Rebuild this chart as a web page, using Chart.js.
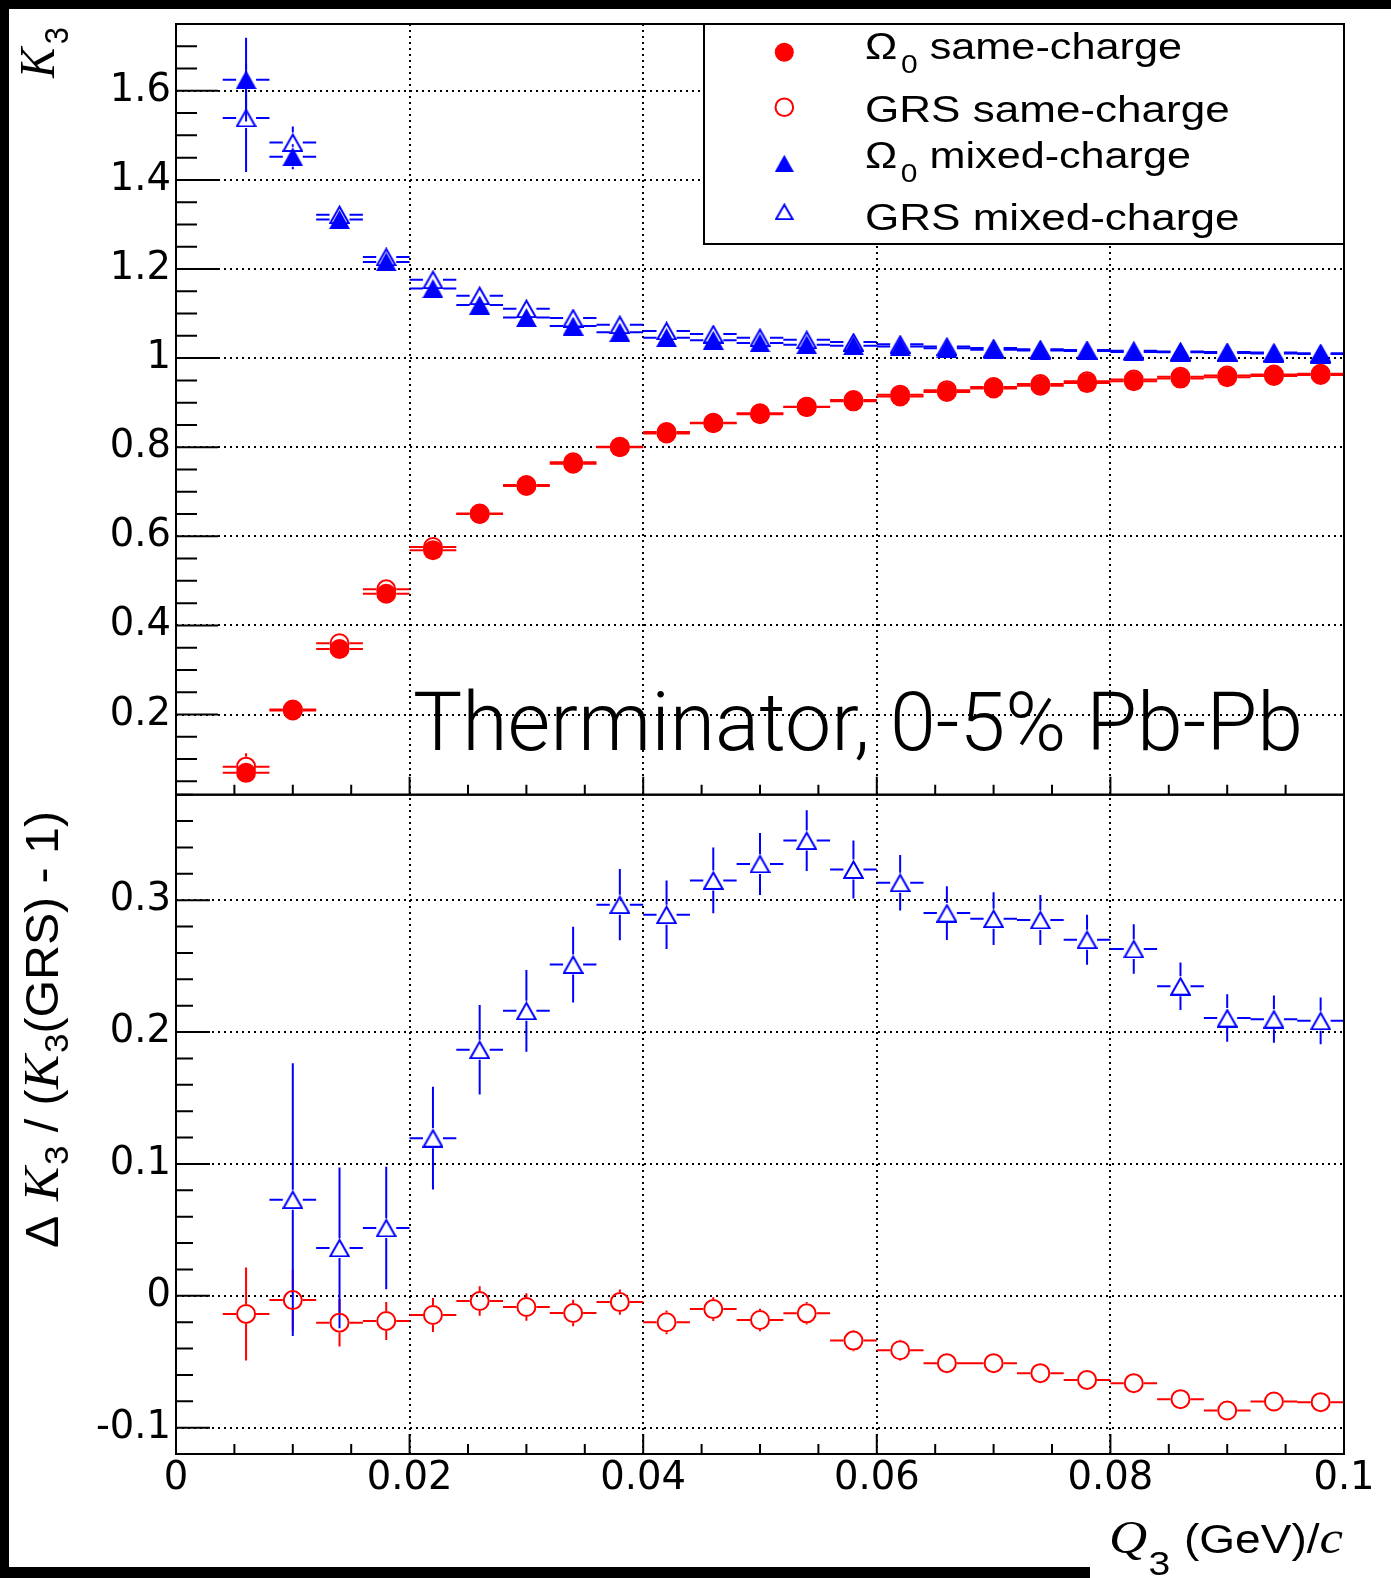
<!DOCTYPE html>
<html>
<head>
<meta charset="utf-8">
<script src="https://cdn.jsdelivr.net/npm/chart.js@4.4.1/dist/chart.umd.min.js"></script>
<style>
  html, body { margin: 0; padding: 0; background: #fff; }
  body { width: 1391px; height: 1578px; position: relative; overflow: hidden; }
  #bandTop { position: absolute; left: 0; top: 0; width: 1391px; height: 9px; background: #000; }
  #bandLeft { position: absolute; left: 0; top: 0; width: 9px; height: 1578px; background: #000; }
  #bandBottom { position: absolute; left: 0; top: 1567px; width: 1090px; height: 11px; background: #000; }
  #wrap { position: absolute; left: 9px; top: 9px; width: 1382px; height: 1569px; }
  canvas { display: block; }
</style>
</head>
<body>
<div id="bandTop"></div><div id="bandLeft"></div><div id="bandBottom"></div>
<div id="wrap"><canvas id="c" width="1382" height="1569"></canvas></div>
<script>
// ---------------- DATA ----------------
const qBins = [0.006, 0.010, 0.014, 0.018, 0.022, 0.026, 0.030, 0.034, 0.038, 0.042, 0.046, 0.050,
               0.054, 0.058, 0.062, 0.066, 0.070, 0.074, 0.078, 0.082, 0.086, 0.090, 0.094, 0.098];
const binHalfWidth = 0.002;

// upper panel: K3
const k3OmegaSame    = [0.069, 0.209, 0.347, 0.471, 0.569, 0.650, 0.713, 0.763, 0.800, 0.831, 0.854, 0.874,
                        0.890, 0.903, 0.914, 0.924, 0.932, 0.938, 0.944, 0.948, 0.954, 0.957, 0.960, 0.962];
const k3OmegaSameErr = [0.020, 0.008, 0.006, 0.005, 0.004, 0.004, 0.003, 0.003, 0.003, 0.003, 0.003, 0.003,
                        0.002, 0.002, 0.002, 0.002, 0.002, 0.002, 0.002, 0.002, 0.002, 0.002, 0.002, 0.002];
const k3GrsSame      = [0.083, 0.211, 0.360, 0.481, 0.576, 0.651, 0.715, 0.766, 0.801, 0.834, 0.855, 0.876,
                        0.891, 0.906, 0.918, 0.928, 0.935, 0.942, 0.948, 0.952, 0.958, 0.961, 0.963, 0.965];
const k3GrsSameErr   = [0.030, 0.010, 0.007, 0.006, 0.005, 0.004, 0.004, 0.003, 0.003, 0.003, 0.003, 0.003,
                        0.002, 0.002, 0.002, 0.002, 0.002, 0.002, 0.002, 0.002, 0.002, 0.002, 0.002, 0.002];
const k3OmegaMixed    = [1.625, 1.452, 1.311, 1.216, 1.156, 1.119, 1.091, 1.072, 1.058, 1.046, 1.040, 1.034,
                         1.030, 1.028, 1.026, 1.022, 1.019, 1.017, 1.016, 1.014, 1.013, 1.0115, 1.0105, 1.009];
const k3OmegaMixedErr = [0.094, 0.028, 0.012, 0.009, 0.007, 0.006, 0.005, 0.005, 0.004, 0.004, 0.004, 0.003,
                         0.003, 0.003, 0.003, 0.003, 0.003, 0.002, 0.002, 0.002, 0.002, 0.002, 0.002, 0.002];
const k3GrsMixed      = [1.539, 1.484, 1.322, 1.227, 1.176, 1.140, 1.111, 1.090, 1.075, 1.061, 1.054, 1.046,
                         1.041, 1.036, 1.031, 1.026, 1.0225, 1.020, 1.018, 1.0165, 1.015, 1.0137, 1.0127, 1.0112];
const k3GrsMixedErr   = [0.121, 0.036, 0.014, 0.010, 0.008, 0.006, 0.005, 0.005, 0.004, 0.004, 0.004, 0.003,
                         0.003, 0.003, 0.003, 0.003, 0.003, 0.002, 0.002, 0.002, 0.002, 0.002, 0.002, 0.002];

// lower panel: Delta K3 / (K3(GRS) - 1)
const ratioSame    = [-0.0138, -0.0033, -0.0204, -0.0191, -0.0146, -0.0040, -0.0085, -0.0131, -0.0048, -0.0201, -0.0101, -0.0184,
                      -0.0133, -0.0340, -0.0413, -0.0511, -0.0511, -0.0587, -0.0638, -0.0663, -0.0784, -0.0870, -0.0802, -0.0807];
const ratioSameErr = [0.0353, 0.0230, 0.0180, 0.0144, 0.0129, 0.0112, 0.0105, 0.0100, 0.0096, 0.0090, 0.0090, 0.0085,
                      0.0085, 0.0080, 0.0080, 0.0070, 0.0070, 0.0070, 0.0070, 0.0070, 0.0068, 0.0068, 0.0067, 0.0066];
const ratioMixed    = [null, 0.0729, 0.0363, 0.0514, 0.1195, 0.1866, 0.2161, 0.2512, 0.2966, 0.2890, 0.3150, 0.3275,
                       0.3452, 0.3233, 0.3132, 0.2902, 0.2860, 0.2850, 0.2700, 0.2630, 0.2348, 0.2106, 0.2098, 0.2085];
const ratioMixedErr = [0, 0.1034, 0.0610, 0.0464, 0.0390, 0.0340, 0.0310, 0.0287, 0.0270, 0.0260, 0.0250, 0.0235,
                       0.0230, 0.0220, 0.0210, 0.0204, 0.0200, 0.0190, 0.0190, 0.0187, 0.0180, 0.0180, 0.0180, 0.0177];

// axes / ticks / labels
const xTickValues = [0, 0.02, 0.04, 0.06, 0.08, 0.1];
const xTickLabels = ['0', '0.02', '0.04', '0.06', '0.08', '0.1'];
const yUTickValues = [0.2, 0.4, 0.6, 0.8, 1.0, 1.2, 1.4, 1.6];
const yUTickLabels = ['0.2', '0.4', '0.6', '0.8', '1', '1.2', '1.4', '1.6'];
const yLTickValues = [-0.1, 0, 0.1, 0.2, 0.3];
const yLTickLabels = ['-0.1', '0', '0.1', '0.2', '0.3'];
const seriesNames = ['Ω0 same-charge', 'GRS same-charge', 'Ω0 mixed-charge', 'GRS mixed-charge'];
const annotationText = 'Therminator, 0-5% Pb-Pb';

// ---------------- STYLE ----------------
const RED = '#ff0000', BLUE = '#0000ff';
const SANS = '"Liberation Sans", Arial, sans-serif';
const SERIF = '"Liberation Serif", "Times New Roman", serif';

function triCanvas(filled, color, W, H) {
  const c = document.createElement('canvas');
  c.width = W; c.height = H;
  const g = c.getContext('2d');
  g.beginPath();
  if (filled) {
    g.moveTo(W / 2, 0); g.lineTo(W, H); g.lineTo(0, H); g.closePath();
    g.fillStyle = color; g.fill();
  } else {
    g.moveTo(W / 2, 1.6); g.lineTo(W - 1.2, H - 1); g.lineTo(1.2, H - 1); g.closePath();
    g.lineWidth = 2; g.strokeStyle = color; g.lineJoin = 'miter'; g.stroke();
  }
  return c;
}
const triFilled = triCanvas(true, BLUE, 21, 19);
const triOpen = triCanvas(false, BLUE, 21, 19);
const triFilledLeg = triCanvas(true, BLUE, 19, 17);
const triOpenLeg = triCanvas(false, BLUE, 19, 17);

function pts(ys) { return qBins.map((x, i) => ({ x: x, y: ys[i] })); }

const datasets = [
  { label: seriesNames[0], data: pts(k3OmegaSame), yErr: k3OmegaSameErr, yAxisID: 'yU',
    pointStyle: 'circle', pointRadius: 10, pointBackgroundColor: RED, pointBorderColor: RED, pointBorderWidth: 0,
    borderColor: RED, markerHalf: 10 },
  { label: seriesNames[1], data: pts(k3GrsSame), yErr: k3GrsSameErr, yAxisID: 'yU',
    pointStyle: 'circle', pointRadius: 9, pointBackgroundColor: 'rgba(0,0,0,0)', pointBorderColor: RED, pointBorderWidth: 2,
    borderColor: RED, markerHalf: 10 },
  { label: seriesNames[2], data: pts(k3OmegaMixed), yErr: k3OmegaMixedErr, yAxisID: 'yU',
    pointStyle: triFilled, pointRadius: 10, borderColor: BLUE, pointBackgroundColor: BLUE, markerHalf: 10 },
  { label: seriesNames[3], data: pts(k3GrsMixed), yErr: k3GrsMixedErr, yAxisID: 'yU',
    pointStyle: triOpen, pointRadius: 10, borderColor: BLUE, pointBackgroundColor: BLUE, markerHalf: 10 },
  { label: 'GRS same-charge ratio', data: pts(ratioSame), yErr: ratioSameErr, yAxisID: 'yL',
    pointStyle: 'circle', pointRadius: 9, pointBackgroundColor: 'rgba(0,0,0,0)', pointBorderColor: RED, pointBorderWidth: 2,
    borderColor: RED, markerHalf: 10 },
  { label: 'GRS mixed-charge ratio', data: pts(ratioMixed), yErr: ratioMixedErr, yAxisID: 'yL',
    pointStyle: triOpen, pointRadius: 10, borderColor: BLUE, pointBackgroundColor: BLUE, markerHalf: 10 }
];
datasets.forEach(d => { d.showLine = false; d.pointHoverRadius = d.pointRadius; });

// ---------------- HELPERS ----------------
function drawRuns(ctx, runs, x, y, angle, targetLen) {
  let total = 0;
  const widths = runs.map(r => {
    ctx.font = r.font;
    const w = ctx.measureText(r.text).width + (r.gapBefore || 0);
    total += w; return w;
  });
  const s = targetLen ? targetLen / total : 1;
  ctx.save();
  ctx.translate(x, y); ctx.rotate(angle); ctx.scale(s, 1);
  ctx.textBaseline = 'alphabetic'; ctx.textAlign = 'left'; ctx.fillStyle = '#000';
  let cx = 0;
  runs.forEach((r, i) => {
    ctx.font = r.font;
    ctx.fillText(r.text, cx + (r.gapBefore || 0), r.dy || 0);
    cx += widths[i];
  });
  ctx.restore();
}

function drawErrorBars(chart) {
  const ctx = chart.ctx;
  const xs = chart.scales.x;
  chart.data.datasets.forEach((ds, di) => {
    const meta = chart.getDatasetMeta(di);
    const ys = chart.scales[ds.yAxisID];
    ctx.save();
    ctx.strokeStyle = ds.borderColor; ctx.lineWidth = 2; ctx.setLineDash([]);
    ctx.beginPath();
    ds.data.forEach((p, j) => {
      if (p.y === null || p.y === undefined) return;
      const el = meta.data[j];
      const px = el.x, py = el.y, g = ds.markerHalf;
      const xl = xs.getPixelForValue(p.x - binHalfWidth), xr = xs.getPixelForValue(p.x + binHalfWidth);
      if (px - g > xl) { ctx.moveTo(xl, py); ctx.lineTo(px - g, py); }
      if (xr > px + g) { ctx.moveTo(px + g, py); ctx.lineTo(xr, py); }
      const e = ds.yErr[j];
      const yt = ys.getPixelForValue(p.y + e), yb = ys.getPixelForValue(p.y - e);
      if (yt < py - g) { ctx.moveTo(px, yt); ctx.lineTo(px, py - g); }
      if (yb > py + g) { ctx.moveTo(px, py + g); ctx.lineTo(px, yb); }
    });
    ctx.stroke();
    ctx.restore();
  });
}

function drawFramesAndTicks(chart) {
  const ctx = chart.ctx, ca = chart.chartArea;
  const xs = chart.scales.x, yU = chart.scales.yU, yL = chart.scales.yL;
  ctx.save();
  ctx.strokeStyle = '#000'; ctx.lineWidth = 2; ctx.setLineDash([]);
  ctx.beginPath();
  for (let k = 0; k <= 40; k++) {
    const v = k * 0.05;
    if (v < yU.min - 1e-9 || v > yU.max + 1e-9) continue;
    const major = Math.abs(v / 0.2 - Math.round(v / 0.2)) < 1e-6;
    const py = yU.getPixelForValue(v);
    ctx.moveTo(ca.left, py); ctx.lineTo(ca.left + (major ? 42 : 21), py);
  }
  for (let k = -6; k <= 19; k++) {
    const v = k * 0.02;
    if (v < yL.min - 1e-9 || v > yL.max + 1e-9) continue;
    const major = Math.abs(v / 0.1 - Math.round(v / 0.1)) < 1e-6;
    const py = yL.getPixelForValue(v);
    ctx.moveTo(ca.left, py); ctx.lineTo(ca.left + (major ? 34 : 17), py);
  }
  for (let k = 0; k <= 20; k++) {
    const v = k * 0.005;
    const major = Math.abs(v / 0.02 - Math.round(v / 0.02)) < 1e-6;
    const px = xs.getPixelForValue(v);
    ctx.moveTo(px, yL.bottom); ctx.lineTo(px, yL.bottom - (major ? 20 : 10));
    ctx.moveTo(px, yU.bottom); ctx.lineTo(px, yU.bottom - (major ? 18 : 10));
  }
  ctx.stroke();
  ctx.strokeRect(ca.left, yU.top, ca.right - ca.left, yU.bottom - yU.top);
  ctx.strokeRect(ca.left, yL.top, ca.right - ca.left, yL.bottom - yL.top);
  ctx.restore();
}

function drawLegend(chart) {
  const ctx = chart.ctx;
  const box = { l: 695, t: 15, r: 1335, b: 235 };
  ctx.save();
  ctx.fillStyle = '#fff';
  ctx.fillRect(box.l, box.t, box.r - box.l, box.b - box.t);
  ctx.strokeStyle = '#000'; ctx.lineWidth = 2; ctx.setLineDash([]);
  ctx.strokeRect(box.l, box.t, box.r - box.l, box.b - box.t);
  const mx = 775.3;
  const markerY = [43.3, 98.3, 154.3, 202.7];
  const textY = [50.3, 112.7, 159, 221];
  const textEnd = [1173, 1220.7, 1182, 1230.5];
  const tx = 856;
  ctx.beginPath(); ctx.arc(mx, markerY[0], 9.5, 0, Math.PI * 2); ctx.fillStyle = RED; ctx.fill();
  ctx.beginPath(); ctx.arc(mx, markerY[1], 8.8, 0, Math.PI * 2); ctx.strokeStyle = RED; ctx.lineWidth = 2; ctx.stroke();
  ctx.drawImage(triFilledLeg, mx - triFilledLeg.width / 2, markerY[2] - triFilledLeg.height / 2);
  ctx.drawImage(triOpenLeg, mx - triOpenLeg.width / 2, markerY[3] - triOpenLeg.height / 2);
  ctx.restore();
  seriesNames.forEach((name, i) => {
    let runs;
    if (name.startsWith('Ω0')) {
      runs = [ { text: 'Ω', font: `36px ${SANS}` },
               { text: '0', font: `25px ${SANS}`, dy: 14, gapBefore: 3 },
               { text: name.slice(2), font: `36px ${SANS}` } ];
    } else {
      runs = [ { text: name, font: `36px ${SANS}` } ];
    }
    drawRuns(ctx, runs, tx, textY[i], 0, textEnd[i] - tx);
  });
}

function drawTexts(chart) {
  const ctx = chart.ctx;
  drawRuns(ctx, [{ text: annotationText, font: `300 81px Roboto, ${SANS}` }], 404, 741, 0, 890);
  drawRuns(ctx, [ { text: 'K', font: `italic 50px ${SERIF}` },
                  { text: '3', font: `34px ${SANS}`, dy: 14, gapBefore: 4 } ],
           45, 69, -Math.PI / 2, 51);
  drawRuns(ctx, [ { text: 'Δ', font: `47px ${SANS}` },
                  { text: 'K', font: `italic 50px ${SERIF}`, gapBefore: 14 },
                  { text: '3', font: `34px ${SANS}`, dy: 10, gapBefore: 2 },
                  { text: ' / (', font: `47px ${SANS}` },
                  { text: 'K', font: `italic 50px ${SERIF}` },
                  { text: '3', font: `34px ${SANS}`, dy: 10, gapBefore: 2 },
                  { text: '(GRS) - 1)', font: `47px ${SANS}` } ],
           49, 1239, -Math.PI / 2, 437);
  drawRuns(ctx, [ { text: 'Q', font: `italic 46px ${SERIF}` },
                  { text: '3', font: `34px ${SANS}`, dy: 22, gapBefore: 1 },
                  { text: '(GeV)/', font: `40px ${SANS}`, gapBefore: 12 },
                  { text: 'c', font: `italic 46px ${SERIF}` } ],
           1100, 1544, 0, 234);
}

const rootStyle = {
  id: 'rootStyle',
  beforeDatasetsDraw(chart) { drawErrorBars(chart); },
  afterDatasetsDraw(chart) {
    drawFramesAndTicks(chart);
    drawTexts(chart);
    drawLegend(chart);
  }
};

function noPad(s) { s.paddingTop = 0; s.paddingBottom = 0; s.paddingLeft = 0; s.paddingRight = 0; }

const tickFont = { family: '"DejaVu Sans", sans-serif', size: 38.5 };
const gridOpts = { color: '#000', lineWidth: 2, drawTicks: false };
const borderOpts = { display: false, dash: [2, 4] };

new Chart(document.getElementById('c'), {
  type: 'scatter',
  data: { datasets: datasets },
  options: {
    responsive: false,
    devicePixelRatio: 1,
    animation: false,
    events: [],
    layout: { padding: { top: 15, right: 47, left: 0, bottom: 0 } },
    plugins: { legend: { display: false }, tooltip: { enabled: false } },
    scales: {
      x: {
        type: 'linear', position: 'bottom', min: 0, max: 0.1,
        afterBuildTicks: s => { s.ticks = xTickValues.map(v => ({ value: v })); },
        afterFit: s => { s.height = 124; noPad(s); },
        ticks: { font: tickFont, color: '#000', padding: 2, maxRotation: 0, minRotation: 0, autoSkip: false,
                 callback: (v, i) => xTickLabels[i] },
        grid: gridOpts, border: borderOpts
      },
      yL: {
        type: 'linear', position: 'left', stack: 'k', stackWeight: 659.3, min: -0.12, max: 0.38,
        afterBuildTicks: s => { s.ticks = yLTickValues.map(v => ({ value: v })); },
        afterFit: s => { s.width = 167; noPad(s); },
        ticks: { font: tickFont, color: '#000', padding: 5, autoSkip: false, callback: (v, i) => yLTickLabels[i] },
        grid: gridOpts, border: borderOpts
      },
      yU: {
        type: 'linear', position: 'left', stack: 'k', stackWeight: 770.7, min: 0.02, max: 1.75,
        afterBuildTicks: s => { s.ticks = yUTickValues.map(v => ({ value: v })); },
        afterFit: s => { s.width = 167; noPad(s); },
        ticks: { font: tickFont, color: '#000', padding: 5, autoSkip: false, callback: (v, i) => yUTickLabels[i] },
        grid: gridOpts, border: borderOpts
      }
    }
  },
  plugins: [rootStyle]
});
</script>
</body>
</html>
